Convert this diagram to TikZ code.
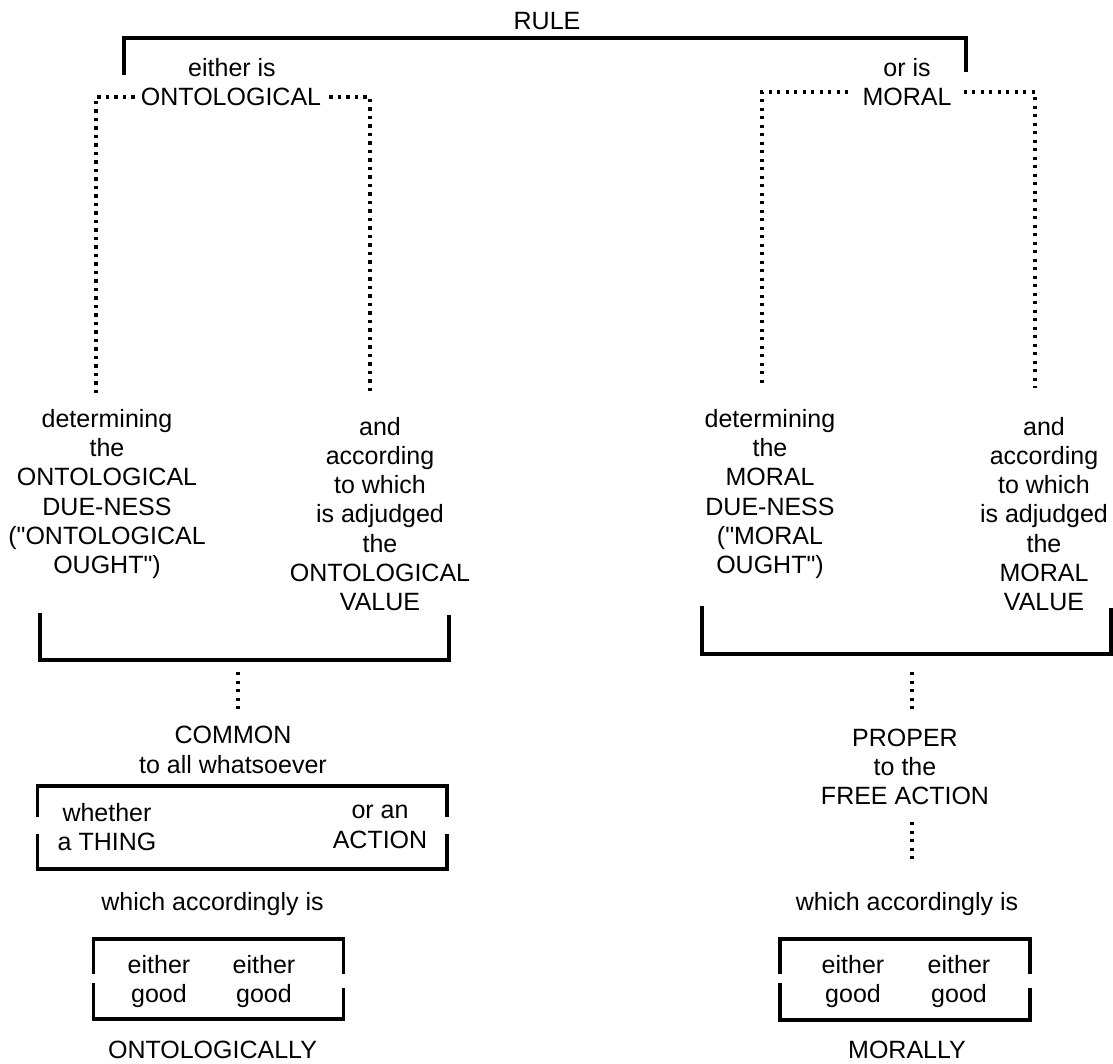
\documentclass[tikz,border=0pt]{standalone}
\usepackage{fontspec}
\setmainfont{Liberation Sans}
\usetikzlibrary{positioning}
\tikzset{
  txt/.style={inner sep=0pt, align=center, font=\fontsize{25}{29.3}\selectfont},
  bar/.style={draw=black, line width=3.5pt},
  dotline/.style={draw=black, line width=3.3pt, dash pattern=on 3.3pt off 5.2pt},
}

\begin{document}
\begin{tikzpicture}[x=1pt,y=-1pt]
  \useasboundingbox (0,0) rectangle (1113,1063);
  % top
  \node[txt] (rule) at (547,21) {RULE};
  \node[txt] (eitheris) at (232,68) {either is};
  \node[txt] (ont) at (231,97) {ONTOLOGICAL};
  \node[txt] (oris) at (907,68) {or is};
  \node[txt] (mor) at (907,97) {MORAL};
  \draw[bar] (124,75) -- (124,38) -- (966,38) -- (966,72);
  % dotted branches
  \coordinate (ontA) at (96,395);
  \coordinate (ontB) at (370,395);
  \coordinate (morA) at (762,388);
  \coordinate (morB) at (1035,388);
  \draw[dotline] ([xshift=-6pt]ont.west) -| (ontA);
  \draw[dotline] ([xshift=8pt]ont.east) -| (ontB);
  \draw[dotline] ([xshift=-14pt,yshift=5pt]mor.west) -| (morA);
  \draw[dotline] ([xshift=12pt,yshift=5pt]mor.east) -| (morB);
  % ontological side
  \node[txt] (detO) at (107,494) {determining\\the\\ONTOLOGICAL\\DUE-NESS\\(\textquotedbl ONTOLOGICAL\\OUGHT\textquotedbl)};
  \node[txt] (valO) at (380,514) {and\\according\\to which\\is adjudged\\the\\ONTOLOGICAL\\VALUE};
  \draw[bar] (40,613) -- (40,660) -- (449,660) -- (449,615);
  \coordinate (brO) at (238,672);
  \node[txt] (common) at (233,750) {COMMON\\to all whatsoever};
  \draw[dotline] (brO) -- (238,713);
  \draw[bar] (37.5,817) -- (37.5,786) -- (447,786) -- (447,817);
  \draw[bar] (37.5,834) -- (37.5,869) -- (447,869) -- (447,834);
  \node[txt] (thing) at (107,827) {whether\\a THING};
  \node[txt] (action) at (380,827) {or an\\ACTION};
  \node[txt] (whichO) at (212.5,904) {which accordingly is};
  \draw[bar] (93.6,974) -- (93.6,939) -- (343.6,939) -- (343.6,974);
  \draw[bar] (93.6,983) -- (93.6,1019) -- (343.6,1019) -- (343.6,988);
  \node[txt] (goodOa) at (159,981.5) {either\\good};
  \node[txt] (goodOb) at (264,981.5) {either\\good};
  \node[txt] (ontly) at (212.5,1050) {ONTOLOGICALLY};
  % moral side
  \node[txt] (detM) at (770,494) {determining\\the\\MORAL\\DUE-NESS\\(\textquotedbl MORAL\\OUGHT\textquotedbl)};
  \node[txt] (valM) at (1044,514) {and\\according\\to which\\is adjudged\\the\\MORAL\\VALUE};
  \draw[bar] (702,606) -- (702,654) -- (1111,654) -- (1111,608);
  \coordinate (brM) at (912,672);
  \coordinate (prA) at (912,822);
  \node[txt] (proper) at (905,767) {PROPER\\to the\\FREE ACTION};
  \draw[dotline] (brM) -- (912,713);
  \draw[dotline] (prA) -- (912,863);
  \node[txt] (whichM) at (907,904) {which accordingly is};
  \draw[bar] (780,974) -- (780,939) -- (1030,939) -- (1030,974);
  \draw[bar] (780,983) -- (780,1020) -- (1030,1020) -- (1030,988);
  \node[txt] (goodMa) at (853,981.5) {either\\good};
  \node[txt] (goodMb) at (959,981.5) {either\\good};
  \node[txt] (morly) at (907,1050) {MORALLY};
\end{tikzpicture}
\end{document}
